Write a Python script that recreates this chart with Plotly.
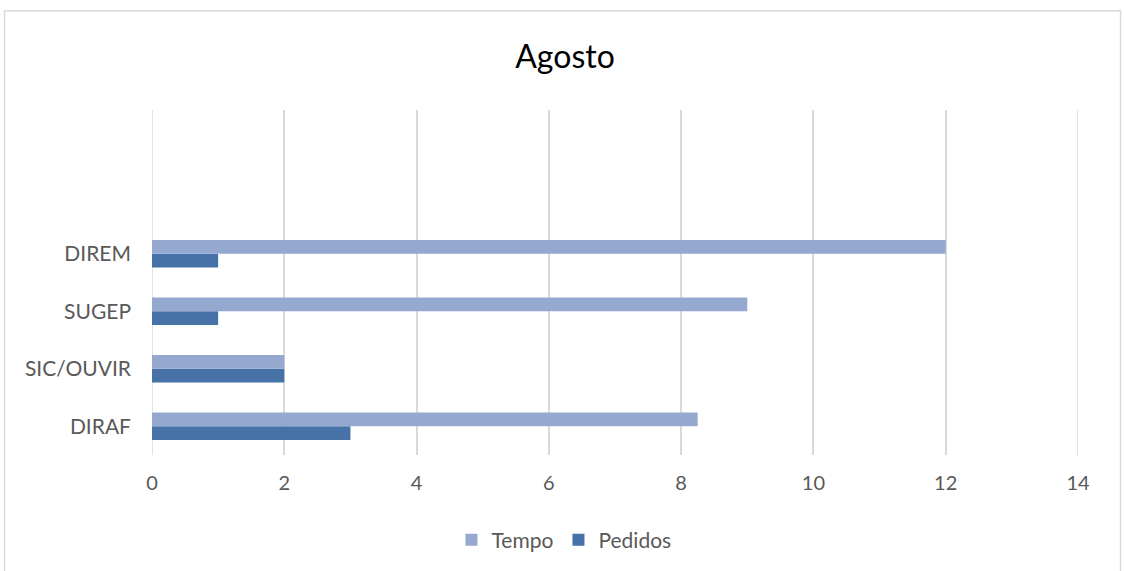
import plotly.graph_objects as go

# Monthly request data per unit
categorias = ["DIRAF", "SIC/OUVIR", "SUGEP", "DIREM"]
tempo = [8.25, 2, 9, 12]
pedidos = [3, 2, 1, 1]
x_ticks = [0, 2, 4, 6, 8, 10, 12, 14]

cor_tempo = "#95A9D0"
cor_pedidos = "#4672A8"
cor_texto = "#595959"
cor_grade = "#D9D9D9"
fonte = "Lato, 'Open Sans', sans-serif"

fig = go.Figure()
# Pedidos first so that Tempo sits on top within each group
fig.add_trace(go.Bar(
    y=categorias, x=pedidos, name="Pedidos", orientation="h",
    marker=dict(color=cor_pedidos, line=dict(width=0)), legendrank=2,
))
fig.add_trace(go.Bar(
    y=categorias, x=tempo, name="Tempo", orientation="h",
    marker=dict(color=cor_tempo, line=dict(width=0)), legendrank=1,
))

W, H = 1124, 571
ml, mr, mt, mb = 152, 46, 110, 115
pw, ph = W - ml - mr, H - mt - mb

def px_to_paper_x(px):
    return (px - ml) / pw

def px_to_paper_y(py):
    return (H - mb - py) / ph

# Gridlines on the two range edges (Plotly drops those automatically)
edge_lines = [
    dict(type="line", xref="x", yref="paper", x0=v, x1=v, y0=0, y1=1,
         line=dict(color=cor_grade, width=1.5), layer="below")
    for v in (x_ticks[0], x_ticks[-1])
]

chart_border = dict(
    type="rect", xref="paper", yref="paper",
    x0=px_to_paper_x(4.5), x1=px_to_paper_x(1120.5),
    y0=px_to_paper_y(600), y1=px_to_paper_y(10.5),
    line=dict(color=cor_grade, width=1.5), fillcolor="rgba(0,0,0,0)",
    layer="below",
)

fig.update_layout(
    width=W, height=H,
    margin=dict(l=ml, r=mr, t=mt, b=mb, pad=0),
    paper_bgcolor="white", plot_bgcolor="white",
    barmode="group", bargap=0.52, bargroupgap=0,
    font=dict(family=fonte, color=cor_texto, size=20),
    title=dict(
        text="Agosto", x=px_to_paper_x(565), xref="paper", xanchor="center",
        y=1 - 57 / H, yanchor="middle",
        font=dict(family=fonte, size=32, color="#000000"),
    ),
    xaxis=dict(
        range=[x_ticks[0], x_ticks[-1]], tickvals=x_ticks, showgrid=True,
        gridcolor=cor_grade, gridwidth=1.5, zeroline=False,
        showline=False, ticks="", ticklabelstandoff=14,
        tickfont=dict(size=20, color=cor_texto), fixedrange=True,
    ),
    yaxis=dict(
        type="category", categoryorder="array", categoryarray=categorias,
        range=[-0.5, 5.5], showgrid=False, zeroline=False, showline=False,
        ticks="", ticklabelstandoff=20,
        tickfont=dict(size=21, color=cor_texto), fixedrange=True,
    ),
    legend=dict(
        orientation="h", x=px_to_paper_x(564), xanchor="center",
        y=px_to_paper_y(540), yanchor="middle",
        font=dict(size=21, color=cor_texto), traceorder="normal",
        itemwidth=30,
    ),
    shapes=edge_lines + [chart_border],
)

fig.write_html("out.html")
